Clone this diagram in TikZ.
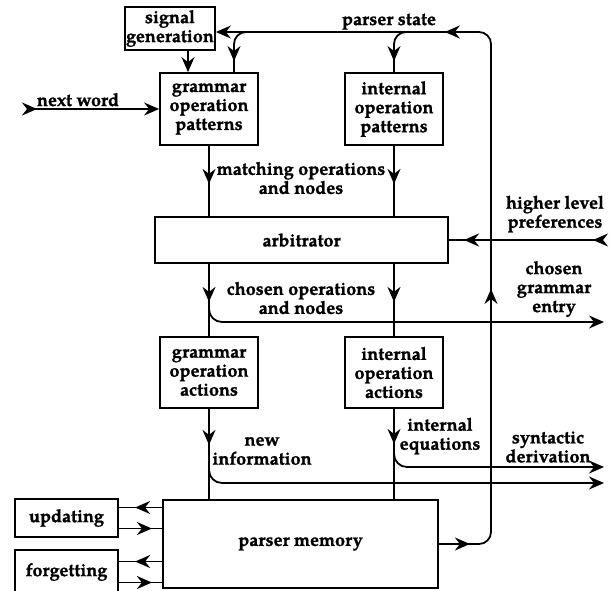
\documentclass[tikz,border=0pt]{standalone}
\usepackage{fontspec}
\setmainfont{TeX Gyre Pagella}[BoldFeatures={FakeBold=1.2}]
\usetikzlibrary{arrows.meta,decorations.markings,calc}
\newcommand\lbfont{\fontsize{18}{19}\selectfont\bfseries}
\tikzset{
  >={Stealth[length=15pt,width=13pt,inset=5pt]},
  conn/.style={line width=1.8pt},
  marr/.style={postaction={decorate,decoration={markings,mark=at position #1 with {\arrow{>}}}}},
  box/.style={draw, line width=1.8pt, align=center, inner sep=0pt, font=\lbfont},
  lbl/.style={align=center, inner sep=0pt, font=\lbfont},
}
\begin{document}
\begin{tikzpicture}[x=1pt,y=-1pt]
\useasboundingbox (0,0) rectangle (612,590);
% boxes
\node[box, minimum width=90pt, minimum height=43pt] (sig) at (170,28.5) {signal\\generation};
\node[box, minimum width=98pt, minimum height=72pt] (gop) at (209,109) {grammar\\operation\\patterns};
\node[box, minimum width=98pt, minimum height=72pt] (iop) at (394,109) {internal\\operation\\patterns};
\node[box, minimum width=293pt, minimum height=46pt] (arb) at (301.5,240) {arbitrator};
\node[box, minimum width=98pt, minimum height=71pt] (goa) at (209,372.5) {grammar\\operation\\actions};
\node[box, minimum width=98pt, minimum height=71pt] (ioa) at (394,372.5) {internal\\operation\\actions};
\node[box, minimum width=275pt, minimum height=88pt] (mem) at (300.5,544) {parser memory};
\node[box, minimum width=103pt, minimum height=38pt] (upd) at (66.5,518) {updating};
\node[box, minimum width=103pt, minimum height=44pt] (forg) at (66.5,572) {forgetting};
% free ends
\coordinate (psR) at (491,32);
\coordinate (nwS) at (27,109);
\coordinate (hlS) at (603,240);
\coordinate (cgE) at (604,322);
\coordinate (sdA) at (604,467);
\coordinate (sdB) at (604,483);
% labels
\node[lbl, anchor=base] (lnw) at (78,106) {next word};
\node[lbl, anchor=base] (lps) at (389,25) {parser state};
\node[lbl] (lmo) at (301,178) {matching operations\\and nodes};
\node[lbl] (lco) at (301,298) {chosen operations\\and nodes};
\node[lbl] (lhl) at (555,214) {higher level\\preferences};
\node[lbl] (lcg) at (554,289) {chosen\\grammar\\entry};
\node[lbl] (lni) at (262,451) {new\\information};
\node[lbl] (lie) at (440,436) {internal\\equations};
\node[lbl] (lsd) at (548,447) {syntactic\\derivation};
% parser state loop
\draw[conn, ->, rounded corners=12pt, marr=31pt, marr=302pt, marr=600pt]
  (mem.east) -- (mem.east -| psR) -- (psR) -- (sig.east |- psR);
\draw[conn, rounded corners=12pt, marr=-11pt]
  ([xshift=37pt]gop.north |- psR) -- ([xshift=25pt]gop.north |- psR) -- ([xshift=25pt]gop.north);
\draw[conn, rounded corners=12pt, marr=-11pt]
  ([xshift=12pt]iop.north |- psR) -- (iop.north |- psR) -- (iop.north);
% signal generation and next word
\draw[conn, ->] ([xshift=18pt]sig.south) -- ([xshift=18pt]sig.south |- gop.north);
\draw[conn, ->, marr=10pt] (nwS) -- (nwS -| gop.west);
% patterns to arbitrator
\draw[conn, marr=38pt] (gop.south) -- (gop.south |- arb.north);
\draw[conn, marr=38pt] (iop.south) -- (iop.south |- arb.north);
% higher level preferences
\draw[conn, marr=10pt, marr=139pt] (hlS) -- (hlS -| arb.east);
% arbitrator to actions
\draw[conn, marr=38pt] (goa.north |- arb.south) -- (goa.north);
\draw[conn, marr=38pt] (ioa.north |- arb.south) -- (ioa.north);
\draw[conn, ->, rounded corners=13pt] (goa.north |- lco) -- (goa.north |- cgE) -- (cgE);
% actions to memory
\draw[conn, marr=36pt] (goa.south) -- (goa.south |- mem.north);
\draw[conn, marr=35pt] (ioa.south) -- (ioa.south |- mem.north);
\draw[conn, ->, rounded corners=13pt] (goa.south |- lni) -- (goa.south |- sdB) -- (sdB);
\draw[conn, ->, rounded corners=13pt] (ioa.south |- lie) -- (ioa.south |- sdA) -- (sdA);
% updating / forgetting
\draw[conn, marr=27pt] ([yshift=10.5pt]upd.east -| mem.west) -- ([yshift=10.5pt]upd.east);
\draw[conn, marr=33pt] ([yshift=-10.5pt]upd.east) -- ([yshift=-10.5pt]upd.east -| mem.west);
\draw[conn, marr=27pt] ([yshift=10.5pt]forg.east -| mem.west) -- ([yshift=10.5pt]forg.east);
\draw[conn, marr=33pt] ([yshift=-10.5pt]forg.east) -- ([yshift=-10.5pt]forg.east -| mem.west);
\end{tikzpicture}
\end{document}
